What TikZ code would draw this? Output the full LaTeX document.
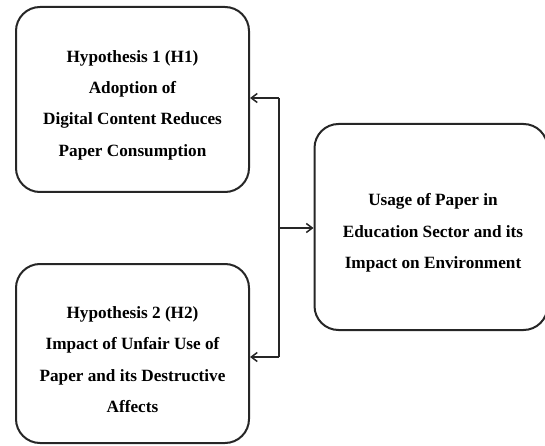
\documentclass[tikz,border=0pt]{standalone}
\usepackage{fontspec}
\setmainfont{Liberation Serif}
\usetikzlibrary{arrows.meta}
\tikzset{
  hbox/.style={draw=black!85, line width=2pt, rounded corners=24pt, inner sep=0pt},
  htext/.style={align=center, font=\bfseries\fontsize{17.2}{31.4}\selectfont, inner sep=0pt},
  conn/.style={draw=black!85, line width=1.7pt},
  arr/.style={conn, -{Straight Barb[length=6pt,width=9pt,line width=1.5pt]}}
}
\begin{document}
\begin{tikzpicture}[x=1pt,y=-1pt]
\useasboundingbox (0,0) rectangle (545,446);
\node[hbox, minimum width=233pt, minimum height=185pt] (h1) at (132.5,99.5) {};
\node[htext] (h1t) at (132.5,105)
  {Hypothesis 1 (H1)\\Adoption of\\Digital Content Reduces\\Paper Consumption};
\node[hbox, minimum width=233pt, minimum height=179pt] (h2) at (132.5,353.5) {};
\node[htext] (h2t) at (132.5,359.5)
  {Hypothesis 2 (H2)\\Impact of Unfair Use of\\Paper and its Destructive\\Affects};
\node[hbox, minimum width=233pt, minimum height=206pt] (u) at (431,227) {};
\node[htext] (ut) at (433,233)
  {Usage of Paper in\\Education Sector and its\\Impact on Environment};
\coordinate (top) at (279,98);
\coordinate (bot) at (279,357);
\coordinate (mid) at (279,228);
\draw[conn] (top) -- (bot);
\draw[arr] (top) -- (top -| h1.east);
\draw[arr] (bot) -- (bot -| h2.east);
\draw[arr] (mid) -- (mid -| u.west);
\end{tikzpicture}
\end{document}
